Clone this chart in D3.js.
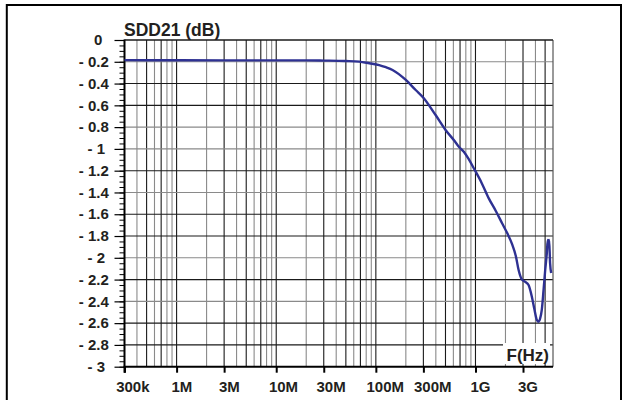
<!DOCTYPE html>
<html><head><meta charset="utf-8">
<script src="https://cdn.jsdelivr.net/npm/d3@7"></script>
<style>
html,body{margin:0;padding:0;background:#fff;}
svg{display:block;}
text{font-family:"Liberation Sans",Arial,Helvetica,sans-serif;font-weight:bold;fill:#231f20;}
</style></head>
<body><svg id="c" width="622" height="400"></svg>
<script>
// ---- data ----
const freqHz = [3e5, 1e6, 3e6, 1e7, 2e7, 3e7, 5e7, 6.8e7, 8.6e7, 1.08e8, 1.26e8, 1.47e8, 2.0e8, 2.51e8, 3.0e8, 3.98e8, 5.01e8, 6.2e8, 6.81e8, 7.64e8, 8.5e8, 9.62e8, 1.15e9, 1.36e9, 1.6e9, 1.85e9, 2.1e9, 2.32e9, 2.55e9, 2.71e9, 2.92e9, 3.15e9, 3.41e9, 3.68e9, 3.9e9, 4.13e9, 4.29e9, 4.45e9, 4.63e9, 4.82e9, 5.01e9, 5.2e9, 5.32e9, 5.42e9, 5.49e9, 5.61e9, 5.75e9];
const sdd21dB = [-0.185, -0.186, -0.187, -0.187, -0.187, -0.189, -0.193, -0.199, -0.214, -0.23, -0.25, -0.275, -0.367, -0.459, -0.53, -0.689, -0.826, -0.93, -0.98, -1.026, -1.09, -1.178, -1.31, -1.454, -1.57, -1.683, -1.78, -1.87, -1.99, -2.112, -2.198, -2.22, -2.25, -2.357, -2.47, -2.571, -2.587, -2.56, -2.479, -2.3, -2.112, -1.959, -1.837, -1.9, -1.837, -2.05, -2.14];
const xTickValues = [3e5, 1e6, 3e6, 1e7, 3e7, 1e8, 3e8, 1e9, 3e9];
const xTickLabels = ["300k", "1M", "3M", "10M", "30M", "100M", "300M", "1G", "3G"];
const yTickValues = [0, -0.2, -0.4, -0.6, -0.8, -1, -1.2, -1.4, -1.6, -1.8, -2, -2.2, -2.4, -2.6, -2.8, -3];
const yTickLabels = ["0", "- 0.2", "- 0.4", "- 0.6", "- 0.8", "- 1", "- 1.2", "- 1.4", "- 1.6", "- 1.8", "- 2", "- 2.2", "- 2.4", "- 2.6", "- 2.8", "- 3"];
const yTitle = "SDD21 (dB)";
const xTitle = "F(Hz)";

// ---- layout ----
const svg = d3.select("#c");
const L = 124.5, R = 553, T = 40, B = 366.7;
const x = d3.scaleLog().domain([3e5, 6e9]).range([L, R]);
const y = d3.scaleLinear().domain([-3, 0]).range([B, T]);

// outer frame (no bottom edge)
svg.append("path").attr("d", `M6.8,400V5H621V400`).attr("fill", "none").attr("stroke", "#000").attr("stroke-width", 2);

// vertical grid
const gridX = [];
for (let e = 5; e <= 9; e++) for (let k = 1; k <= 9; k++) {
  const v = k * Math.pow(10, e);
  if (v > 3e5 && v < 6e9) gridX.push({v, k});
}
svg.append("g").selectAll("line").data(gridX).join("line")
  .attr("x1", d => x(d.v)).attr("x2", d => x(d.v)).attr("y1", T).attr("y2", B)
  .attr("stroke", d => [1,3,5,7].includes(d.k) ? "#1a1a1a" : "#8a8a8a").attr("stroke-width", 1.1);

// horizontal grid
const grayRows = [-0.2, -0.8, -1, -1.4, -2, -2.4];
svg.append("g").selectAll("line").data(yTickValues.filter(v => v > -3)).join("line")
  .attr("x1", L).attr("x2", R).attr("y1", d => y(d)).attr("y2", d => y(d))
  .attr("stroke", d => grayRows.some(g => Math.abs(g - d) < 1e-9) ? "#8a8a8a" : "#1a1a1a").attr("stroke-width", 1.1);

// right edge
svg.append("line").attr("x1", R).attr("x2", R).attr("y1", T).attr("y2", B).attr("stroke", "#555").attr("stroke-width", 1.2);

// y axis with minor ticks
const yAxis = d3.axisLeft(y).tickValues(d3.range(0, 61).map(i => -i * 0.05)).tickSize(5).tickFormat("");
const ga = svg.append("g").attr("transform", `translate(${L},0)`).call(yAxis);
ga.select(".domain").remove();
ga.selectAll("line").attr("stroke", "#000").attr("stroke-width", 1);
const gyMajor = svg.append("g").attr("transform", `translate(${L},0)`)
  .call(d3.axisLeft(y).tickValues(yTickValues).tickSize(10).tickFormat(""));
gyMajor.select(".domain").remove();
gyMajor.selectAll("line").attr("stroke", "#000").attr("stroke-width", 1.2);

// x ticks
const gx = svg.append("g").attr("transform", `translate(0,${B})`)
  .call(d3.axisBottom(x).tickValues(xTickValues).tickSize(6).tickFormat(""));
gx.select(".domain").remove();
gx.selectAll("line").attr("stroke", "#000").attr("stroke-width", 2);

// axis lines
svg.append("line").attr("x1", L).attr("x2", L).attr("y1", T - 0.5).attr("y2", B + 6).attr("stroke", "#000").attr("stroke-width", 2);
svg.append("line").attr("x1", L - 1).attr("x2", R).attr("y1", B).attr("y2", B).attr("stroke", "#000").attr("stroke-width", 2);
svg.append("line").attr("x1", L).attr("x2", R).attr("y1", T).attr("y2", T).attr("stroke", "#1a1a1a").attr("stroke-width", 1.2);

// y labels
const yl = svg.append("g").selectAll("text").data(yTickValues).join("text")
  .attr("y", d => y(d) + 5.2).attr("font-size", 15)
  .text((d, i) => yTickLabels[i]);
yl.each(function() {
  const w = this.getComputedTextLength();
  d3.select(this).attr("x", 99.8 - 0.7 * w);
});

// x labels
const xl = svg.append("g").selectAll("text").data(xTickValues).join("text")
  .attr("y", 391.5).attr("font-size", 15)
  .text((d, i) => xTickLabels[i]);
xl.each(function(d) {
  const w = this.getComputedTextLength();
  d3.select(this).attr("x", x(d) - 0.25 * w);
});

// curve
const data = freqHz.map((f, i) => ({f, v: sdd21dB[i]}));
svg.append("path").datum(data)
  .attr("fill", "none").attr("stroke", "#2e3192").attr("stroke-width", 2.4).attr("stroke-linejoin", "round")
  .attr("d", d3.line().x(d => x(d.f)).y(d => y(d.v)).curve(d3.curveMonotoneX));

// titles
svg.append("text").attr("x", 124).attr("y", 36).attr("font-size", 17.5).text(yTitle);
svg.append("rect").attr("x", 503).attr("y", 343).attr("width", 47).attr("height", 21).attr("fill", "#fff");
svg.append("text").attr("x", 549).attr("y", 361).attr("text-anchor", "end").attr("font-size", 17).text(xTitle);
</script></body></html>
